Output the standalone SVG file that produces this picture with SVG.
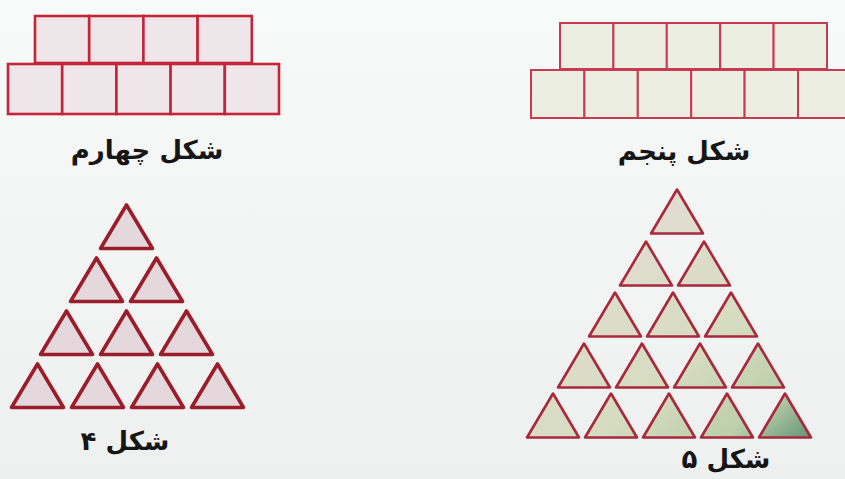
<svg xmlns="http://www.w3.org/2000/svg" xmlns:xlink="http://www.w3.org/1999/xlink" width="845" height="479" viewBox="0 0 845 479">
<defs>
<linearGradient id="bg" x1="0" y1="0" x2="0" y2="1">
<stop offset="0" stop-color="#f8f9f9"/>
<stop offset="1" stop-color="#eef0ef"/>
</linearGradient>
<linearGradient id="gfill" gradientUnits="userSpaceOnUse" x1="620" y1="200" x2="812" y2="440">
<stop offset="0" stop-color="#e4dcd4"/>
<stop offset="0.55" stop-color="#d6dcc0"/>
<stop offset="0.82" stop-color="#bccfac"/>
<stop offset="1" stop-color="#5e9270"/>
</linearGradient>
<path id="triL" d="M0 2 L26 45.5 L-26 45.5 Z"/>
</defs>
<style>
.sqL{fill:#efe6ea;stroke:#c4253a;stroke-width:2.6}
.sqR{fill:#ebeee0;stroke:#c83a52;stroke-width:2}
.tL{fill:#e4d8dc;stroke:#9a1e2a;stroke-width:3.6;stroke-linejoin:round}
.tR{fill:url(#gfill);stroke:#a8283c;stroke-width:2.6;stroke-linejoin:round}
.lbl{font-family:"DejaVu Sans","Noto Sans",sans-serif;font-weight:bold;font-size:26px;fill:#161616;text-anchor:middle}
</style>
<rect width="845" height="479" fill="url(#bg)"/>

<g id="fig-squares-4">
<rect class="sqL" x="35" y="16" width="54.2" height="47"/>
<rect class="sqL" x="89.2" y="16" width="54.2" height="47"/>
<rect class="sqL" x="143.4" y="16" width="54.2" height="47"/>
<rect class="sqL" x="197.6" y="16" width="54.2" height="47"/>
<rect class="sqL" x="8" y="64" width="54.2" height="50"/>
<rect class="sqL" x="62.2" y="64" width="54.2" height="50"/>
<rect class="sqL" x="116.4" y="64" width="54.2" height="50"/>
<rect class="sqL" x="170.6" y="64" width="54.2" height="50"/>
<rect class="sqL" x="224.8" y="64" width="54.2" height="50"/>
<text class="lbl" x="147" y="159" direction="rtl">شکل چهارم</text>
</g>

<g id="fig-squares-5">
<rect class="sqR" x="560" y="23" width="53.4" height="46"/>
<rect class="sqR" x="613.4" y="23" width="53.4" height="46"/>
<rect class="sqR" x="666.8" y="23" width="53.4" height="46"/>
<rect class="sqR" x="720.2" y="23" width="53.4" height="46"/>
<rect class="sqR" x="773.6" y="23" width="53.4" height="46"/>
<rect class="sqR" x="531" y="70" width="53.4" height="48"/>
<rect class="sqR" x="584.4" y="70" width="53.4" height="48"/>
<rect class="sqR" x="637.8" y="70" width="53.4" height="48"/>
<rect class="sqR" x="691.2" y="70" width="53.4" height="48"/>
<rect class="sqR" x="744.6" y="70" width="53.4" height="48"/>
<rect class="sqR" x="798" y="70" width="53.4" height="48"/>
<text class="lbl" x="684" y="160" direction="rtl">شکل پنجم</text>
</g>

<g id="fig-triangles-4">
<use class="tL" xlink:href="#triL" x="126.5" y="203"/>
<use class="tL" xlink:href="#triL" x="96.5" y="256"/>
<use class="tL" xlink:href="#triL" x="156.5" y="256"/>
<use class="tL" xlink:href="#triL" x="66.5" y="309"/>
<use class="tL" xlink:href="#triL" x="126.5" y="309"/>
<use class="tL" xlink:href="#triL" x="186.5" y="309"/>
<use class="tL" xlink:href="#triL" x="37.5" y="362"/>
<use class="tL" xlink:href="#triL" x="97.5" y="362"/>
<use class="tL" xlink:href="#triL" x="157.5" y="362"/>
<use class="tL" xlink:href="#triL" x="217.5" y="362"/>
<text class="lbl" x="125" y="450" direction="rtl">شکل ۴</text>
</g>

<g id="fig-triangles-5">
<polygon class="tR" points="677,189.5 703,233.5 651,233.5"/>
<polygon class="tR" points="646,241.5 672,285.5 620,285.5"/>
<polygon class="tR" points="704,241.5 730,285.5 678,285.5"/>
<polygon class="tR" points="615,292.5 641,336.5 589,336.5"/>
<polygon class="tR" points="673,292.5 699,336.5 647,336.5"/>
<polygon class="tR" points="731,292.5 757,336.5 705,336.5"/>
<polygon class="tR" points="584,343.5 610,387.5 558,387.5"/>
<polygon class="tR" points="642,343.5 668,387.5 616,387.5"/>
<polygon class="tR" points="700,343.5 726,387.5 674,387.5"/>
<polygon class="tR" points="758,343.5 784,387.5 732,387.5"/>
<polygon class="tR" points="553,393.5 579,437.5 527,437.5"/>
<polygon class="tR" points="611,393.5 637,437.5 585,437.5"/>
<polygon class="tR" points="669,393.5 695,437.5 643,437.5"/>
<polygon class="tR" points="727,393.5 753,437.5 701,437.5"/>
<polygon class="tR" points="785,393.5 811,437.5 759,437.5"/>
<text class="lbl" x="726" y="468" direction="rtl">شکل ۵</text>
</g>
</svg>
